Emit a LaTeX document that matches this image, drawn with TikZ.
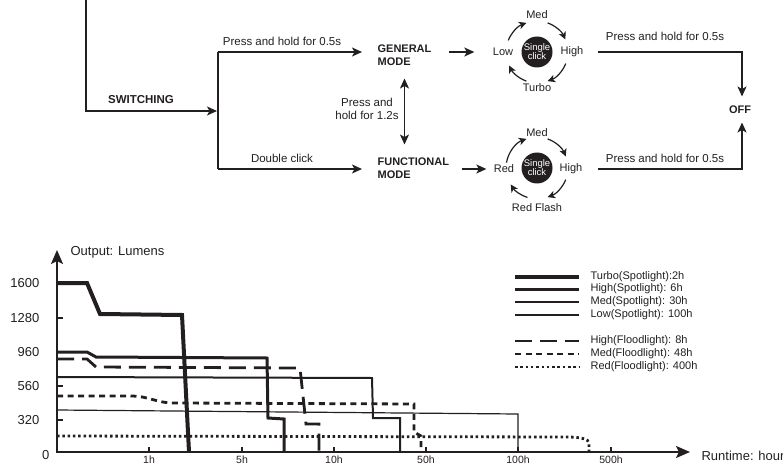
\documentclass[tikz,border=0pt]{standalone}
\usepackage{fontspec}
\setmainfont{Liberation Sans}
\usetikzlibrary{arrows.meta}
\definecolor{ink}{RGB}{35,31,32}

\begin{document}
\begin{tikzpicture}[
    x=1pt, y=-1pt,
    line width=1.2pt,
    draw=ink,
    every node/.style={inner sep=0pt, text=ink, font=\fontsize{11.5}{13}\selectfont},
    mode/.style={anchor=west, align=left, font=\fontsize{11}{13}\selectfont\bfseries},
    lvl/.style={font=\fontsize{11}{13}\selectfont},
    click/.style={circle, fill=ink, minimum size=31pt, text=white, align=center,
        font=\fontsize{9.5}{9}\selectfont},
    flow/.style={-{Stealth[length=10pt, width=9pt, inset=2.5pt]}},
    twoway/.style={{Stealth[length=10pt, width=9pt, inset=2.5pt]}-{Stealth[length=10pt, width=9pt, inset=2.5pt]}},
    arrowarc/.style={-{Stealth[length=7.5pt, width=7.5pt, inset=2pt]}, line width=1.2pt},
    axisline/.style={{Stealth[length=14pt, width=12pt, inset=3pt]}-{Stealth[length=14pt, width=12pt, inset=3pt]}, line width=2pt},
    notch/.style={line width=1.6pt},
    chart/.style={font=\fontsize{13}{15}\selectfont},
    turbo/.style={line width=4pt},
    high/.style={line width=3pt},
    med/.style={line width=2pt},
    low/.style={line width=1.2pt},
    hflood/.style={line width=2.8pt, dash pattern=on 17pt off 8pt},
    mflood/.style={line width=2.8pt, dash pattern=on 6pt off 4.5pt},
    rflood/.style={line width=2.8pt, dash pattern=on 2.5pt off 2.8pt},
    ]
    \useasboundingbox (0,0) rectangle (783,465);

    \coordinate (entry) at (86,0);
    \coordinate (fork) at (218,111);
    \coordinate (forkup) at (218,52);
    \coordinate (forkdown) at (218,169);
    \node (switching) [font=\fontsize{11.5}{13}\selectfont\bfseries] at (141,100) {SWITCHING};
    \node (general) [mode] at (377,55.5) {GENERAL\\MODE};
    \node (functional) [mode] at (377,168) {FUNCTIONAL\\MODE};
    \node (holdgen) at (282,41) {Press and hold for 0.5s};
    \node (dblclick) at (282,158) {Double click};
    \node (holdswap) [align=center] at (367,109) {Press and\\hold for 1.2s};

    \draw[flow, shorten >=1pt] (entry) |- (fork);
    \draw (forkup) -- (forkdown);
    \draw[flow] (forkup) -- ([yshift=3.5pt, xshift=-15pt]general.west);
    \draw[flow] (forkdown) -- ([yshift=-1pt, xshift=-15pt]functional.west);
    \draw[twoway, shorten <=12pt, shorten >=12.5pt] (general.south) -- (general.south |- functional.north);

    \node (click1) [click] at (537,52) {Single\\click};
    \node (low1) [lvl] at (503,52) {Low};
    \node (high1) [lvl] at (572,52) {High};
    \node (med1) [lvl] at (537,15) {Med};
    \node (turbo1) [lvl] at (537,88) {Turbo};
    \node (click2) [click] at (537,168) {Single\\click};
    \node (red2) [lvl] at (504,169) {Red};
    \node (high2) [lvl] at (571,169) {High};
    \node (med2) [lvl] at (537,133) {Med};
    \node (flash2) [lvl] at (537,208) {Red Flash};
    \foreach \a/\b in {158/110, 70/24, -22/-70, -110/-154}
        \draw[arrowarc] (click1) ++(\a:31pt) arc[start angle=\a, end angle=\b, radius=31pt];
    \foreach \a/\b in {170/110, 70/22, -22/-70, -108/-148}
        \draw[arrowarc] (click2) ++(\a:31pt) arc[start angle=\a, end angle=\b, radius=31pt];

    \draw[flow, shorten <=17pt, shorten >=18pt] (general.east |- low1) -- (low1.west);
    \draw[flow, shorten <=12pt, shorten >=7pt] (functional.east |- red2) -- (red2.west);

    \node (off) [font=\fontsize{11}{13}\selectfont\bfseries] at (740,110) {OFF};
    \node (holdoff1) at (665,36) {Press and hold for 0.5s};
    \node (holdoff2) at (665,158) {Press and hold for 0.5s};
    \draw[flow] ([xshift=14pt]high1.east) -| ([xshift=2pt, yshift=9pt]off.north);
    \draw[flow] ([xshift=15pt]high2.east) -| ([xshift=2pt, yshift=-8pt]off.south);

    \coordinate (origin) at (57,452);
    \coordinate (ytop) at (57,250);
    \coordinate (xend) at (690,452);
    \node (ylabel) [chart, anchor=west] at (70,252) {Output: Lumens};
    \node (xlabel) [chart, anchor=west] at (701,456) {Runtime: hour};
    \foreach \v/\yy in {1600/283, 1280/318, 960/352, 560/386, 320/420}{
        \node (y\v) [chart, anchor=east] at (40,\yy) {\v};
        \draw[notch] (57,\yy) -- (63,\yy);
    }
    \node (y0) [chart, anchor=east] at (50,455) {0};
    \foreach \t/\xx in {1h/149, 5h/242, 10h/334, 50h/426, 100h/518, 500h/611}{
        \draw[notch] (\xx,452) -- (\xx,447);
        \node (x\t) [anchor=north, font=\fontsize{10.5}{12}\selectfont] at (\xx,455.5) {\t};
    }

    \draw[turbo] (57,283) -- (87,283) -- (100,314) -- (182,315) -- (189,452);
    \draw[high] (57,352) -- (87,352) -- (96,357) -- (267,358) -- (268,418) -- (284,419) -- (284,452);
    \draw[med] (57,377) -- (372,378) -- (373,418) -- (400,418) -- (400,452);
    \draw[low] (57,410) -- (518,414) -- (518,452);
    \draw[hflood] (57,359) -- (87,359) -- (96,367) -- (300,368) -- (306,424) -- (319,424) -- (319,452);
    \draw[mflood] (57,396) -- (130,396) .. controls (150,396) and (155,403) .. (175,403) -- (414,404) -- (414,432) -- (421,436) -- (421,452);
    \draw[rflood] (57,436) -- (567,437) .. controls (580,437) and (589,439) .. (589,443) -- (589,452);
    \draw[axisline] (ytop) -- (origin) -- (xend);

    \foreach \ly/\sty/\txt in {277/turbo/Turbo(Spotlight):2h, 289/high/High(Spotlight): 6h,
        302/med/Med(Spotlight): 30h, 315/low/Low(Spotlight): 100h, 341/hflood/High(Floodlight): 8h,
        354/mflood/Med(Floodlight): 48h, 367/rflood/Red(Floodlight): 400h}{
        \draw[\sty] (515,\ly) -- (579,\ly);
        \node (key\ly) [anchor=west, font=\fontsize{11}{13}\selectfont] at (590,\ly) {\txt};
    }
\end{tikzpicture}
\end{document}
